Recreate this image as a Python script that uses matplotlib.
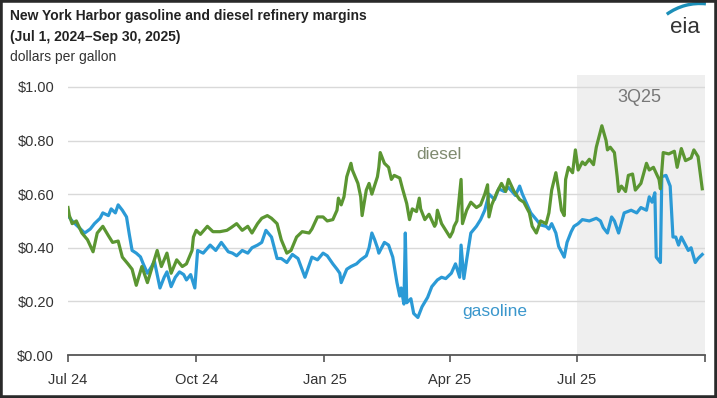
import matplotlib
matplotlib.use("Agg")
import matplotlib.pyplot as plt
import matplotlib.patches as mpatches
import pandas as pd

plt.rcParams['font.family'] = ['Liberation Sans', 'DejaVu Sans']

gas_dates = ["2024-07-01","2024-07-04","2024-07-08","2024-07-13","2024-07-17","2024-07-20","2024-07-24","2024-07-26",
    "2024-07-30","2024-08-01","2024-08-04","2024-08-06","2024-08-09","2024-08-12","2024-08-14","2024-08-16",
    "2024-08-19","2024-08-22","2024-08-24","2024-08-27","2024-08-30","2024-09-01","2024-09-05","2024-09-08",
    "2024-09-10","2024-09-13","2024-09-16","2024-09-19","2024-09-22","2024-09-24","2024-09-27","2024-09-30",
    "2024-10-02","2024-10-06","2024-10-11","2024-10-15","2024-10-19","2024-10-24","2024-10-27","2024-10-30",
    "2024-11-03","2024-11-07","2024-11-10","2024-11-14","2024-11-17","2024-11-20","2024-11-24","2024-11-28",
    "2024-12-01","2024-12-05","2024-12-09","2024-12-13","2024-12-18","2024-12-23","2024-12-27","2024-12-31",
    "2025-01-03","2025-01-07","2025-01-10","2025-01-12","2025-01-13","2025-01-17","2025-01-20","2025-01-24",
    "2025-01-27","2025-01-31","2025-02-02","2025-02-04","2025-02-06","2025-02-08","2025-02-09","2025-02-13",
    "2025-02-16","2025-02-19","2025-02-22","2025-02-24","2025-02-25","2025-02-27","2025-02-28","2025-03-01",
    "2025-03-04","2025-03-06","2025-03-09","2025-03-12","2025-03-16","2025-03-19","2025-03-23","2025-03-26",
    "2025-03-29","2025-04-02","2025-04-05","2025-04-08","2025-04-09","2025-04-11","2025-04-13","2025-04-16",
    "2025-04-20","2025-04-23","2025-04-26","2025-04-29","2025-05-03","2025-05-06","2025-05-10","2025-05-13",
    "2025-05-18","2025-05-21","2025-05-23","2025-05-26","2025-05-29","2025-06-02","2025-06-05","2025-06-09",
    "2025-06-11","2025-06-13","2025-06-16","2025-06-18","2025-06-22","2025-06-24","2025-06-27","2025-06-29",
    "2025-07-02","2025-07-05","2025-07-10","2025-07-15","2025-07-18","2025-07-20","2025-07-23","2025-07-26",
    "2025-07-28","2025-07-31","2025-08-04","2025-08-09","2025-08-13","2025-08-16","2025-08-20","2025-08-22",
    "2025-08-24","2025-08-26","2025-08-27","2025-08-30","2025-08-31","2025-09-03","2025-09-06","2025-09-08",
    "2025-09-10","2025-09-12","2025-09-14","2025-09-16","2025-09-19","2025-09-21","2025-09-24","2025-09-26",
    "2025-09-29"]
gasoline = [0.52,0.50,0.48,0.455,0.47,0.49,0.51,0.53,
    0.52,0.545,0.53,0.56,0.54,0.515,0.45,0.39,
    0.38,0.366,0.34,0.305,0.33,0.35,0.25,0.29,
    0.31,0.255,0.29,0.31,0.30,0.28,0.30,0.25,
    0.39,0.38,0.41,0.39,0.42,0.385,0.38,0.37,
    0.39,0.38,0.40,0.41,0.42,0.465,0.44,0.36,
    0.36,0.345,0.375,0.36,0.29,0.365,0.355,0.38,
    0.37,0.34,0.32,0.305,0.27,0.32,0.33,0.34,
    0.355,0.37,0.40,0.455,0.43,0.40,0.38,0.42,
    0.41,0.365,0.27,0.22,0.25,0.19,0.455,0.195,
    0.21,0.155,0.14,0.18,0.215,0.255,0.28,0.29,
    0.285,0.305,0.34,0.29,0.41,0.285,0.355,0.455,
    0.48,0.505,0.54,0.60,0.58,0.62,0.61,0.625,
    0.595,0.63,0.60,0.565,0.53,0.505,0.485,0.48,
    0.47,0.49,0.455,0.405,0.365,0.42,0.46,0.48,
    0.49,0.505,0.50,0.51,0.50,0.475,0.455,0.515,
    0.50,0.455,0.53,0.54,0.53,0.55,0.54,0.59,
    0.57,0.605,0.365,0.345,0.665,0.67,0.63,0.44,
    0.44,0.41,0.44,0.42,0.39,0.40,0.345,0.36,
    0.375]

dsl_dates = ["2024-07-01","2024-07-02","2024-07-04","2024-07-07","2024-07-11","2024-07-15","2024-07-19","2024-07-22",
    "2024-07-26","2024-07-30","2024-08-02","2024-08-06","2024-08-09","2024-08-13","2024-08-16","2024-08-19",
    "2024-08-23","2024-08-27","2024-09-01","2024-09-03","2024-09-06","2024-09-10","2024-09-13","2024-09-17",
    "2024-09-21","2024-09-24","2024-09-28","2024-09-29","2024-10-01","2024-10-04","2024-10-09","2024-10-13",
    "2024-10-18","2024-10-23","2024-10-26","2024-10-30","2024-11-03","2024-11-07","2024-11-10","2024-11-14",
    "2024-11-17","2024-11-21","2024-11-24","2024-11-28","2024-12-01","2024-12-05","2024-12-08","2024-12-12",
    "2024-12-16","2024-12-21","2024-12-23","2024-12-27","2024-12-31","2025-01-03","2025-01-07","2025-01-10",
    "2025-01-11","2025-01-13","2025-01-15","2025-01-17","2025-01-20","2025-01-21","2025-01-23","2025-01-25",
    "2025-01-27","2025-01-28","2025-01-31","2025-02-02","2025-02-04","2025-02-08","2025-02-09","2025-02-10",
    "2025-02-13","2025-02-16","2025-02-18","2025-02-20","2025-02-24","2025-02-26","2025-03-01","2025-03-03",
    "2025-03-05","2025-03-08","2025-03-10","2025-03-11","2025-03-14","2025-03-17","2025-03-21","2025-03-22",
    "2025-03-23","2025-03-26","2025-03-29","2025-04-01","2025-04-03","2025-04-04","2025-04-06","2025-04-09",
    "2025-04-10","2025-04-13","2025-04-16","2025-04-20","2025-04-23","2025-04-26","2025-04-28","2025-04-29",
    "2025-05-01","2025-05-05","2025-05-08","2025-05-11","2025-05-13","2025-05-17","2025-05-21","2025-05-24",
    "2025-05-28","2025-05-30","2025-06-02","2025-06-05","2025-06-09","2025-06-11","2025-06-13","2025-06-16",
    "2025-06-18","2025-06-20","2025-06-22","2025-06-23","2025-06-25","2025-06-28","2025-06-30","2025-07-02",
    "2025-07-05","2025-07-07","2025-07-10","2025-07-13","2025-07-15","2025-07-19","2025-07-22","2025-07-23",
    "2025-07-25","2025-07-28","2025-07-30","2025-07-31","2025-08-02","2025-08-05","2025-08-07","2025-08-10",
    "2025-08-12","2025-08-16","2025-08-20","2025-08-22","2025-08-25","2025-08-29","2025-08-30","2025-09-01",
    "2025-09-05","2025-09-09","2025-09-11","2025-09-14","2025-09-17","2025-09-21","2025-09-23","2025-09-26",
    "2025-09-29"]
diesel = [0.55,0.52,0.49,0.50,0.455,0.43,0.385,0.455,
    0.48,0.445,0.42,0.425,0.365,0.34,0.32,0.26,
    0.33,0.27,0.355,0.39,0.33,0.38,0.305,0.355,
    0.33,0.34,0.39,0.44,0.465,0.45,0.48,0.46,
    0.46,0.465,0.475,0.49,0.465,0.48,0.455,0.49,
    0.51,0.52,0.51,0.49,0.43,0.38,0.39,0.44,
    0.46,0.455,0.47,0.515,0.515,0.50,0.505,0.54,
    0.585,0.56,0.59,0.665,0.715,0.69,0.665,0.64,
    0.59,0.52,0.615,0.64,0.60,0.665,0.70,0.755,
    0.715,0.70,0.655,0.67,0.66,0.62,0.565,0.505,
    0.545,0.535,0.585,0.545,0.505,0.525,0.48,0.49,
    0.54,0.49,0.465,0.44,0.46,0.48,0.50,0.655,
    0.49,0.54,0.57,0.55,0.56,0.60,0.635,0.515,
    0.56,0.61,0.64,0.61,0.655,0.61,0.58,0.57,
    0.53,0.48,0.455,0.50,0.49,0.53,0.615,0.68,
    0.615,0.54,0.52,0.655,0.70,0.68,0.765,0.69,
    0.72,0.71,0.73,0.71,0.775,0.855,0.80,0.765,
    0.775,0.755,0.665,0.61,0.63,0.61,0.67,0.675,
    0.615,0.64,0.715,0.69,0.70,0.655,0.62,0.755,
    0.75,0.76,0.70,0.77,0.725,0.735,0.765,0.74,
    0.62]

y_ticks = [0.0, 0.2, 0.4, 0.6, 0.8, 1.0]
x_tick_dates = ["2024-07-01", "2024-10-01", "2025-01-01", "2025-04-01", "2025-07-01", "2025-10-01"]
x_tick_labels = ["Jul 24", "Oct 24", "Jan 25", "Apr 25", "Jul 25", ""]
shade_start, shade_end = "2025-07-01", "2025-10-01"

GAS_C = "#2b9ad6"
DSL_C = "#5b9632"

fig = plt.figure(figsize=(7.17, 3.98), dpi=100)
ax = fig.add_axes([0.0948, 0.108, 0.8885, 0.704])

gd = pd.to_datetime(gas_dates)
dd = pd.to_datetime(dsl_dates)

ax.axvspan(pd.Timestamp(shade_start), pd.Timestamp(shade_end), color="#efefef", zorder=0, lw=0)
for yv in y_ticks[1:]:
    ax.axhline(yv, color="#d9d9d9", lw=1.0, zorder=1)

ax.plot(gd, gasoline, color=GAS_C, lw=2.3, zorder=3, solid_joinstyle="round")
ax.plot(dd, diesel, color=DSL_C, lw=2.3, zorder=4, solid_joinstyle="round")

ax.set_xlim(pd.Timestamp("2024-07-01"), pd.Timestamp("2025-10-01"))
ax.set_ylim(0, 1.045)

ax.set_yticks(y_ticks)
ax.set_yticklabels([f"${v:.2f}" for v in y_ticks])
ax.set_xticks(pd.to_datetime(x_tick_dates))
ax.set_xticklabels(x_tick_labels)

for s in ["top", "right", "left"]:
    ax.spines[s].set_visible(False)
ax.spines["bottom"].set_color("#555555")
ax.spines["bottom"].set_linewidth(1.3)
ax.tick_params(axis="y", length=0, pad=10, labelsize=10.5, labelcolor="#333333")
ax.tick_params(axis="x", length=5, width=1.2, color="#555555", pad=8, labelsize=10.5, labelcolor="#333333")
ax.patch.set_alpha(0)

ax.text(pd.Timestamp("2025-03-24"), 0.746, "diesel", color="#7f8a6f", fontsize=12.5, ha="center", va="center")
ax.text(pd.Timestamp("2025-05-03"), 0.164, "gasoline", color="#3b97cc", fontsize=12.5, ha="center", va="center")
ax.text(pd.Timestamp("2025-08-15"), 0.96, "3Q25", color="#777777", fontsize=13, ha="center", va="center")

fig.text(0.014, 0.960, "New York Harbor gasoline and diesel refinery margins", fontsize=10,
         fontweight="bold", color="#222222", ha="left", va="center")
fig.text(0.014, 0.907, "(Jul 1, 2024\u2013Sep 30, 2025)", fontsize=10,
         fontweight="bold", color="#222222", ha="left", va="center")
fig.text(0.014, 0.857, "dollars per gallon", fontsize=10, color="#333333", ha="left", va="center")

# eia logo
fig.text(0.955, 0.932, "eia", fontsize=16, color="#333333", ha="center", va="center")
arc = mpatches.Arc((7.00, 3.38), 1.13, 1.13, theta1=84, theta2=126,
                   transform=fig.dpi_scale_trans, color="#1c8fb8", lw=2.4)
fig.patches.append(arc)

# dark frame
frame = mpatches.Rectangle((0, 0), 1, 1, transform=fig.transFigure, fill=False,
                           edgecolor="#2a2a2a", lw=4)
fig.patches.append(frame)

fig.savefig("out.png", dpi=100)
